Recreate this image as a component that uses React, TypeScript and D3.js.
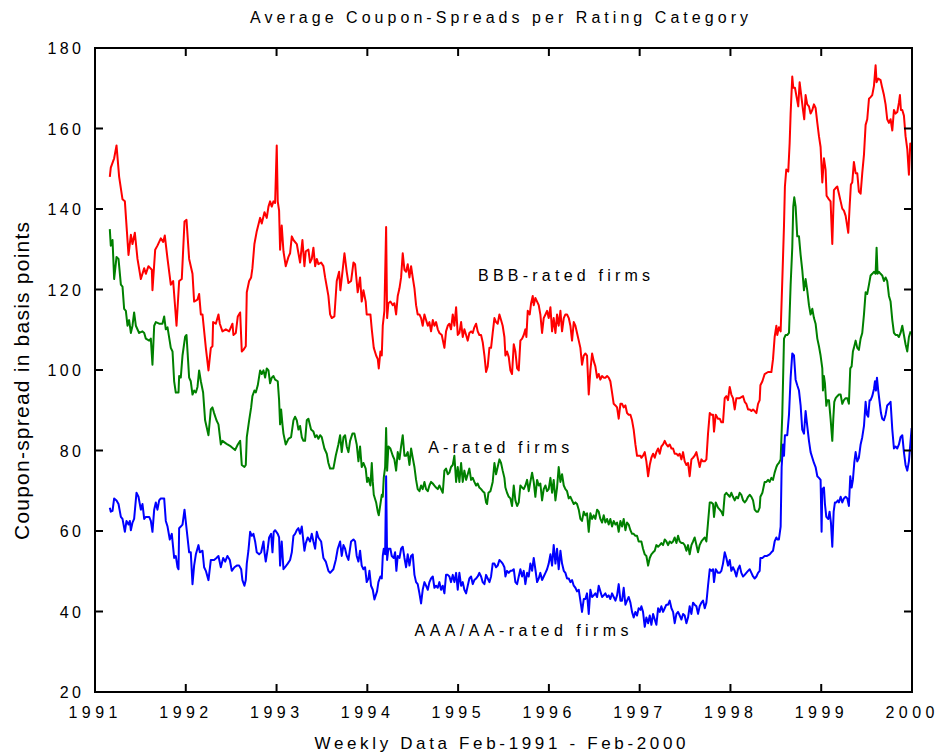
import React from "react";
import * as d3 from "d3";

type Pt = [number, number];

// weekly coupon-spreads (year fraction, basis points)
const bbbRated: Pt[] = [
  [1991.163,148.0],[1991.174,150.3],[1991.211,152.6],[1991.237,155.8],[1991.266,148.0],[1991.303,142.4],[1991.329,141.9],[1991.369,128.6],[1991.395,133.6],[1991.413,131.3],[1991.439,134.1],[1991.468,127.6],[1991.505,122.6],[1991.542,125.3],[1991.560,123.9],[1991.589,125.8],[1991.626,124.9],[1991.633,119.8],[1991.663,129.9],[1991.688,130.9],[1991.725,132.7],[1991.751,131.8],[1991.769,133.4],[1991.799,127.6],[1991.835,121.2],[1991.861,122.1],[1991.898,111.0],[1991.927,122.1],[1991.956,122.6],[1991.986,136.9],[1992.008,137.3],[1992.037,127.6],[1992.074,123.9],[1992.092,117.0],[1992.129,117.5],[1992.147,118.9],[1992.166,113.8],[1992.184,113.8],[1992.221,105.5],[1992.250,99.9],[1992.276,105.5],[1992.294,105.9],[1992.301,111.9],[1992.331,111.5],[1992.360,113.8],[1992.375,111.5],[1992.404,109.6],[1992.441,110.1],[1992.478,109.6],[1992.514,111.5],
  [1992.525,108.7],[1992.551,109.2],[1992.573,113.3],[1992.599,114.3],[1992.617,104.6],[1992.635,105.0],[1992.661,105.9],[1992.672,119.3],[1992.698,122.1],[1992.720,123.0],[1992.734,125.3],[1992.756,131.3],[1992.782,134.5],[1992.819,137.8],[1992.837,136.4],[1992.867,139.2],[1992.892,137.8],[1992.911,140.6],[1992.929,141.9],[1992.947,140.6],[1992.966,141.9],[1992.984,141.5],[1993.002,155.8],[1993.013,141.9],[1993.028,139.6],[1993.039,129.9],[1993.057,135.9],[1993.076,129.5],[1993.101,125.8],[1993.131,128.1],[1993.149,129.0],[1993.168,133.2],[1993.186,132.3],[1993.223,131.3],[1993.241,129.0],[1993.259,126.7],[1993.285,132.3],[1993.307,125.8],[1993.322,129.5],[1993.351,129.9],[1993.369,126.7],[1993.388,127.6],[1993.406,130.4],[1993.425,125.8],[1993.443,127.6],[1993.461,126.3],[1993.491,126.7],[1993.516,125.8],[1993.535,123.0],[1993.571,118.4],[1993.590,113.8],[1993.608,112.9],[1993.637,113.3],[1993.663,122.1],[1993.689,124.4],[1993.703,119.8],[1993.726,124.4],[1993.748,129.0],[1993.773,124.4],[1993.792,121.6],[1993.821,122.1],[1993.847,126.7],[1993.865,126.3],[1993.894,119.3],[1993.920,123.0],[1993.938,117.0],[1993.957,119.8],[1993.982,117.0],[1993.993,113.8],[1994.012,113.8],
  [1994.034,113.8],[1994.049,110.1],[1994.071,105.5],[1994.097,103.6],[1994.115,102.7],[1994.126,100.4],[1994.144,104.6],[1994.159,103.6],[1994.170,111.0],[1994.188,114.7],[1994.207,135.5],[1994.218,112.9],[1994.232,116.6],[1994.254,117.0],[1994.280,116.1],[1994.298,116.6],[1994.317,113.8],[1994.335,118.4],[1994.354,120.3],[1994.372,123.0],[1994.390,129.0],[1994.409,124.9],[1994.427,124.4],[1994.445,126.3],[1994.464,123.0],[1994.482,125.8],[1994.500,123.0],[1994.519,120.3],[1994.537,116.1],[1994.555,113.8],[1994.574,113.8],[1994.592,112.9],[1994.610,111.0],[1994.629,113.8],[1994.647,112.4],[1994.666,111.0],[1994.684,111.9],[1994.702,109.6],[1994.721,112.4],[1994.739,111.0],[1994.757,111.9],[1994.776,110.1],[1994.794,109.2],[1994.820,108.7],[1994.849,105.5],[1994.867,109.6],[1994.886,111.0],[1994.904,111.5],[1994.922,110.1],[1994.941,113.8],[1994.959,111.0],[1994.978,115.6],[1994.996,108.7],[1995.014,109.2],[1995.033,111.9],[1995.051,108.2],[1995.069,110.1],[1995.088,108.7],[1995.106,107.3],[1995.124,109.2],[1995.143,109.6],[1995.161,109.2],[1995.179,110.6],[1995.198,111.5],[1995.216,109.6],[1995.234,108.7],[1995.253,108.7],[1995.271,106.9],[1995.290,103.6],[1995.308,99.5],[1995.326,100.9],[1995.345,105.5],[1995.363,105.5],[1995.381,109.2],[1995.400,112.9],[1995.418,111.9],[1995.436,111.5],[1995.455,113.8],[1995.473,112.4],[1995.491,111.0],[1995.510,108.2],
  [1995.521,103.6],[1995.539,104.6],[1995.558,103.2],[1995.576,99.9],[1995.594,99.0],[1995.613,106.4],[1995.631,104.6],[1995.650,100.4],[1995.668,99.9],[1995.686,107.3],[1995.705,107.8],[1995.723,108.7],[1995.741,110.1],[1995.752,108.2],[1995.767,114.7],[1995.789,113.8],[1995.804,116.6],[1995.822,118.4],[1995.833,116.1],[1995.851,117.9],[1995.870,117.0],[1995.888,116.1],[1995.906,113.8],[1995.925,109.2],[1995.943,112.9],[1995.962,113.8],[1995.980,114.7],[1995.998,112.9],[1996.017,115.6],[1996.035,109.6],[1996.053,112.9],[1996.072,109.2],[1996.090,113.8],[1996.108,111.0],[1996.127,114.7],[1996.145,109.6],[1996.164,112.9],[1996.182,113.8],[1996.200,113.8],[1996.219,112.9],[1996.237,111.0],[1996.255,107.3],[1996.274,111.9],[1996.292,111.0],[1996.310,109.2],[1996.329,107.3],[1996.347,105.5],[1996.365,101.3],[1996.384,103.6],[1996.402,104.1],[1996.420,103.6],[1996.439,93.9],[1996.457,99.9],[1996.476,104.1],[1996.494,102.2],[1996.512,100.9],[1996.531,98.1],[1996.549,99.0],[1996.567,97.6],[1996.586,98.5],[1996.604,98.1],[1996.622,98.1],[1996.641,98.5],[1996.659,98.1],[1996.677,97.2],[1996.696,94.4],[1996.714,91.6],[1996.733,91.2],[1996.751,90.7],[1996.769,87.9],[1996.788,91.6],[1996.806,91.6],[1996.824,90.7],[1996.843,91.2],[1996.861,89.3],[1996.879,88.9],[1996.898,88.9],[1996.916,87.5],[1996.934,85.2],[1996.953,81.5],[1996.971,78.7],[1996.989,78.7],[1997.008,78.7],
  [1997.019,78.2],[1997.037,78.7],[1997.056,79.6],[1997.074,77.3],[1997.093,73.6],[1997.111,76.4],[1997.129,78.2],[1997.148,79.2],[1997.166,78.2],[1997.184,79.6],[1997.203,80.5],[1997.221,79.2],[1997.239,81.0],[1997.258,81.5],[1997.276,82.4],[1997.294,81.5],[1997.313,81.0],[1997.331,81.5],[1997.350,80.5],[1997.368,80.5],[1997.386,79.2],[1997.405,79.2],[1997.423,78.7],[1997.441,79.2],[1997.460,77.8],[1997.478,79.6],[1997.496,77.3],[1997.515,76.4],[1997.533,76.9],[1997.551,73.6],[1997.570,77.8],[1997.588,78.2],[1997.606,78.7],[1997.625,79.6],[1997.643,77.8],[1997.661,75.9],[1997.680,77.8],[1997.698,77.3],[1997.717,77.3],[1997.735,77.8],[1997.753,84.2],[1997.772,89.3],[1997.790,88.9],[1997.808,88.9],[1997.819,84.7],[1997.838,88.9],[1997.863,87.9],[1997.882,87.9],[1997.900,87.0],[1997.918,87.0],[1997.937,93.0],[1997.955,93.5],[1997.973,92.5],[1997.992,95.8],[1998.010,93.9],[1998.028,93.0],[1998.047,90.2],[1998.065,93.0],[1998.102,93.0],[1998.139,93.5],[1998.157,92.1],[1998.175,91.6],[1998.194,90.2],[1998.212,90.2],[1998.231,89.8],[1998.249,90.2],[1998.267,89.8],[1998.286,89.3],[1998.304,91.6],[1998.322,92.5],[1998.330,96.2],[1998.352,97.2],[1998.377,99.0],[1998.414,99.5],[1998.451,99.5],[1998.469,102.7],[1998.487,108.2],[1998.506,111.0],
  [1998.516,108.7],[1998.534,110.6],[1998.553,109.6],[1998.571,122.1],[1998.590,135.9],[1998.600,145.6],[1998.615,149.8],[1998.637,149.3],[1998.652,156.3],[1998.663,163.7],[1998.681,172.9],[1998.692,170.1],[1998.711,170.1],[1998.725,168.3],[1998.747,165.5],[1998.762,171.5],[1998.784,167.4],[1998.799,164.6],[1998.813,162.3],[1998.828,168.3],[1998.846,166.0],[1998.865,165.5],[1998.883,163.7],[1998.902,164.6],[1998.920,166.0],[1998.938,165.1],[1998.957,161.4],[1998.975,158.1],[1998.993,155.4],[1999.012,146.6],[1999.030,152.6],[1999.048,149.8],[1999.059,143.3],[1999.085,142.4],[1999.103,141.9],[1999.122,131.3],[1999.140,144.7],[1999.159,145.2],[1999.177,145.6],[1999.195,143.8],[1999.214,141.9],[1999.232,140.1],[1999.250,139.6],[1999.269,138.3],[1999.298,134.1],[1999.313,140.6],[1999.327,146.1],[1999.342,146.6],[1999.360,151.7],[1999.379,148.9],[1999.397,148.9],[1999.415,144.3],[1999.434,143.8],[1999.452,148.9],[1999.471,153.5],[1999.489,160.9],[1999.507,162.3],[1999.526,167.4],[1999.544,167.8],[1999.562,168.3],[1999.581,170.6],[1999.599,175.7],[1999.610,171.5],[1999.628,172.4],[1999.654,172.0],[1999.672,170.1],[1999.691,168.3],[1999.709,166.0],[1999.727,162.3],[1999.746,161.4],[1999.764,162.3],[1999.783,159.5],[1999.801,164.6],[1999.819,163.7],[1999.838,164.1],[1999.856,166.4],[1999.867,168.3],[1999.878,164.6],[1999.893,164.6],[1999.911,163.2],[1999.929,158.1],[1999.948,154.9],[1999.966,148.5],[1999.981,156.3],[1999.996,154.4],
];

const aRated: Pt[] = [
  [1991.163,135.0],[1991.174,130.9],[1991.193,132.3],[1991.211,122.6],[1991.237,128.1],[1991.259,127.6],[1991.285,121.2],[1991.303,120.7],[1991.321,115.2],[1991.340,114.7],[1991.358,111.0],[1991.376,112.4],[1991.395,109.2],[1991.413,111.0],[1991.431,114.3],[1991.450,111.0],[1991.486,109.2],[1991.523,109.6],[1991.542,109.2],[1991.560,107.8],[1991.597,107.3],[1991.615,107.8],[1991.633,101.3],[1991.652,111.0],[1991.670,111.9],[1991.707,111.5],[1991.743,111.5],[1991.762,113.3],[1991.780,110.1],[1991.799,110.6],[1991.835,105.5],[1991.854,104.6],[1991.872,97.2],[1991.890,94.4],[1991.920,94.4],[1991.927,98.5],[1991.945,98.1],[1991.964,103.6],[1991.993,108.3],[1992.008,108.7],[1992.037,98.1],[1992.055,97.2],[1992.074,93.9],[1992.092,94.9],[1992.111,94.4],[1992.129,95.8],[1992.147,99.9],[1992.166,97.2],[1992.191,94.4],[1992.213,87.5],[1992.250,83.8],[1992.276,90.2],[1992.294,90.7],[1992.312,89.3],[1992.338,87.5],[1992.360,86.5],[1992.386,81.5],[1992.404,82.4],[1992.434,81.9],[1992.459,81.5],[1992.496,81.0],
  [1992.543,80.1],[1992.573,81.5],[1992.599,82.4],[1992.617,76.4],[1992.646,75.9],[1992.661,76.4],[1992.672,83.3],[1992.698,87.5],[1992.720,90.7],[1992.734,93.5],[1992.756,94.9],[1992.771,94.4],[1992.793,96.2],[1992.819,99.9],[1992.837,99.0],[1992.856,99.9],[1992.874,98.1],[1992.892,100.4],[1992.911,99.9],[1992.929,96.7],[1992.947,98.1],[1992.966,98.5],[1992.984,97.6],[1993.013,97.2],[1993.028,92.5],[1993.039,86.5],[1993.050,90.2],[1993.065,86.5],[1993.076,84.2],[1993.101,81.5],[1993.131,82.9],[1993.160,83.3],[1993.186,87.5],[1993.204,88.4],[1993.223,87.5],[1993.241,85.2],[1993.259,86.1],[1993.278,83.3],[1993.296,82.4],[1993.314,82.4],[1993.333,87.5],[1993.351,87.9],[1993.380,85.2],[1993.406,84.7],[1993.425,83.3],[1993.443,83.8],[1993.461,82.9],[1993.480,83.8],[1993.498,83.3],[1993.527,80.5],[1993.553,79.2],[1993.571,76.9],[1993.590,75.5],[1993.626,75.5],[1993.652,78.7],[1993.681,81.5],[1993.700,83.8],[1993.718,79.6],[1993.737,83.3],[1993.755,83.8],[1993.773,81.0],[1993.792,79.6],[1993.810,82.4],[1993.836,84.2],[1993.858,84.2],[1993.883,81.5],[1993.902,77.3],[1993.920,81.0],[1993.938,75.9],[1993.957,76.9],[1993.982,75.5],[1993.997,72.2],[1994.012,73.2],
  [1994.023,72.2],[1994.034,71.3],[1994.049,76.9],[1994.060,72.2],[1994.071,69.0],[1994.097,67.1],[1994.115,64.8],[1994.126,63.9],[1994.144,66.7],[1994.159,69.0],[1994.170,68.5],[1994.181,73.2],[1994.196,75.9],[1994.207,85.6],[1994.218,75.0],[1994.232,81.0],[1994.254,80.5],[1994.280,78.7],[1994.298,77.8],[1994.317,75.0],[1994.335,79.6],[1994.354,77.8],[1994.372,81.0],[1994.390,83.8],[1994.409,78.7],[1994.427,78.7],[1994.445,79.6],[1994.464,76.4],[1994.482,80.5],[1994.500,78.2],[1994.519,75.9],[1994.537,72.7],[1994.555,70.4],[1994.574,69.9],[1994.592,71.3],[1994.610,70.4],[1994.629,72.2],[1994.647,70.4],[1994.666,69.9],[1994.684,71.3],[1994.702,72.2],[1994.721,71.8],[1994.739,71.3],[1994.757,70.8],[1994.776,70.4],[1994.794,71.3],[1994.812,70.4],[1994.831,69.5],[1994.849,75.0],[1994.867,75.5],[1994.886,74.1],[1994.904,74.5],[1994.922,75.9],[1994.941,76.4],[1994.959,78.7],[1994.978,72.2],[1994.996,75.9],[1995.014,72.2],[1995.033,76.9],[1995.051,72.2],[1995.069,75.0],[1995.088,72.7],[1995.106,74.1],[1995.124,75.5],[1995.143,72.7],[1995.161,73.2],[1995.179,72.2],[1995.198,71.3],[1995.216,71.8],[1995.234,70.8],[1995.253,70.4],[1995.271,69.9],[1995.290,69.5],[1995.308,67.1],[1995.319,66.7],[1995.334,69.5],[1995.356,69.9],[1995.381,72.2],[1995.400,76.9],[1995.418,74.1],[1995.436,75.9],[1995.455,77.8],[1995.473,76.9],[1995.491,75.0],[1995.510,73.2],
  [1995.521,70.8],[1995.539,69.5],[1995.558,68.5],[1995.576,68.1],[1995.594,66.2],[1995.613,71.3],[1995.631,67.6],[1995.650,66.2],[1995.668,67.1],[1995.686,71.3],[1995.705,70.8],[1995.723,70.4],[1995.741,71.3],[1995.760,72.7],[1995.778,69.9],[1995.796,72.2],[1995.815,74.5],[1995.833,72.2],[1995.851,68.5],[1995.870,72.7],[1995.888,71.3],[1995.906,71.8],[1995.925,67.6],[1995.943,70.4],[1995.962,71.3],[1995.980,69.9],[1995.998,70.4],[1996.017,73.2],[1996.035,69.5],[1996.053,72.7],[1996.072,67.6],[1996.090,70.8],[1996.108,75.9],[1996.127,72.2],[1996.145,74.1],[1996.164,71.3],[1996.182,70.4],[1996.200,69.9],[1996.219,68.1],[1996.237,68.5],[1996.255,67.6],[1996.274,66.7],[1996.292,67.1],[1996.310,66.7],[1996.329,65.3],[1996.347,63.0],[1996.365,62.5],[1996.384,64.8],[1996.402,63.9],[1996.420,64.4],[1996.439,59.8],[1996.457,64.4],[1996.476,63.0],[1996.494,63.9],[1996.512,63.0],[1996.531,65.3],[1996.549,64.8],[1996.567,63.0],[1996.586,62.1],[1996.604,63.9],[1996.622,62.1],[1996.641,63.0],[1996.659,61.6],[1996.677,63.0],[1996.696,61.1],[1996.714,62.5],[1996.733,61.6],[1996.751,62.1],[1996.769,59.8],[1996.788,62.5],[1996.806,61.1],[1996.824,63.0],[1996.843,60.2],[1996.861,62.1],[1996.879,61.6],[1996.898,60.2],[1996.916,59.3],[1996.934,59.3],[1996.953,58.8],[1996.971,58.8],[1996.989,57.4],[1997.008,57.4],
  [1997.019,57.4],[1997.037,55.6],[1997.056,54.2],[1997.074,53.8],[1997.093,51.4],[1997.111,53.3],[1997.129,54.2],[1997.148,54.7],[1997.166,55.1],[1997.184,56.5],[1997.203,56.1],[1997.221,56.5],[1997.239,57.0],[1997.258,56.5],[1997.276,57.9],[1997.294,57.4],[1997.313,56.5],[1997.331,57.4],[1997.350,57.0],[1997.368,57.4],[1997.386,58.4],[1997.405,57.0],[1997.423,58.8],[1997.441,57.4],[1997.460,57.0],[1997.478,57.0],[1997.496,56.5],[1997.515,55.1],[1997.533,56.5],[1997.551,54.2],[1997.570,56.5],[1997.588,57.4],[1997.606,58.4],[1997.625,56.5],[1997.643,54.7],[1997.661,56.5],[1997.680,57.4],[1997.698,57.9],[1997.717,58.4],[1997.735,57.4],[1997.753,62.1],[1997.772,67.1],[1997.790,67.1],[1997.808,66.7],[1997.819,63.5],[1997.838,67.1],[1997.863,65.8],[1997.882,65.3],[1997.900,64.8],[1997.918,63.9],[1997.937,69.0],[1997.955,69.5],[1997.973,69.0],[1997.992,68.5],[1998.010,69.5],[1998.028,68.5],[1998.047,67.6],[1998.065,68.5],[1998.083,68.1],[1998.102,69.5],[1998.120,69.0],[1998.139,67.6],[1998.157,67.1],[1998.175,67.6],[1998.194,68.5],[1998.212,69.0],[1998.231,68.5],[1998.249,67.6],[1998.267,65.3],[1998.286,64.8],[1998.304,64.8],[1998.322,65.8],[1998.330,68.5],[1998.352,69.5],[1998.377,72.2],[1998.396,72.2],[1998.414,72.7],[1998.432,72.2],[1998.451,73.2],[1998.469,72.7],[1998.487,74.5],[1998.506,75.9],
  [1998.516,76.4],[1998.534,76.9],[1998.553,77.8],[1998.571,88.9],[1998.590,107.8],[1998.608,108.7],[1998.626,108.7],[1998.645,109.2],[1998.663,121.2],[1998.681,130.4],[1998.692,140.6],[1998.703,142.9],[1998.718,140.6],[1998.736,133.2],[1998.755,133.2],[1998.773,128.6],[1998.791,124.9],[1998.810,119.8],[1998.828,122.6],[1998.846,119.8],[1998.865,116.1],[1998.883,113.8],[1998.902,115.2],[1998.920,112.9],[1998.938,111.5],[1998.957,107.8],[1998.975,105.9],[1998.993,103.6],[1999.012,100.4],[1999.019,94.9],[1999.030,98.5],[1999.041,96.7],[1999.056,91.1],[1999.067,92.5],[1999.085,92.5],[1999.103,87.9],[1999.122,82.4],[1999.133,87.9],[1999.144,92.1],[1999.159,93.0],[1999.177,93.5],[1999.195,93.9],[1999.214,93.9],[1999.232,91.6],[1999.250,92.5],[1999.269,93.0],[1999.287,93.0],[1999.305,91.6],[1999.320,100.4],[1999.335,100.9],[1999.349,104.6],[1999.360,105.5],[1999.379,107.3],[1999.397,105.5],[1999.415,105.0],[1999.434,107.8],[1999.452,109.2],[1999.471,113.8],[1999.489,119.3],[1999.507,118.9],[1999.526,121.2],[1999.544,123.5],[1999.562,123.9],[1999.581,124.4],[1999.599,123.9],[1999.610,130.4],[1999.621,123.9],[1999.636,124.4],[1999.654,123.9],[1999.672,123.5],[1999.691,122.1],[1999.709,123.0],[1999.727,122.1],[1999.746,118.4],[1999.764,117.0],[1999.783,112.4],[1999.801,109.2],[1999.819,108.7],[1999.838,108.7],[1999.856,108.2],[1999.874,109.2],[1999.893,111.0],[1999.911,108.7],[1999.929,106.4],[1999.948,104.6],[1999.966,108.2],[1999.985,109.6],
];

const aaaRated: Pt[] = [
  [1991.163,65.8],[1991.174,64.8],[1991.193,65.0],[1991.211,68.1],[1991.237,67.6],[1991.259,66.7],[1991.285,63.5],[1991.303,63.0],[1991.329,59.8],[1991.347,62.5],[1991.369,61.6],[1991.384,62.5],[1991.395,60.2],[1991.413,62.1],[1991.431,63.0],[1991.457,69.5],[1991.479,68.5],[1991.505,65.3],[1991.523,66.7],[1991.542,63.0],[1991.560,63.5],[1991.597,63.5],[1991.615,62.5],[1991.633,59.8],[1991.652,65.3],[1991.670,67.1],[1991.688,65.3],[1991.707,67.6],[1991.725,68.1],[1991.762,68.1],[1991.780,62.5],[1991.799,61.1],[1991.824,57.9],[1991.846,59.3],[1991.872,53.3],[1991.890,53.8],[1991.909,51.0],[1991.920,50.5],[1991.927,60.7],[1991.945,61.1],[1991.964,61.6],[1991.986,65.3],[1992.008,60.7],[1992.037,54.7],[1992.055,54.7],[1992.074,46.8],[1992.092,51.4],[1992.111,54.2],[1992.140,56.5],[1992.155,54.7],[1992.184,55.1],[1992.202,51.0],[1992.221,50.1],[1992.250,47.8],[1992.276,52.8],[1992.312,52.8],[1992.338,53.3],[1992.360,53.8],[1992.386,51.0],[1992.412,53.3],[1992.434,52.4],[1992.459,53.8],[1992.485,52.8],[1992.507,50.1],
  [1992.536,51.0],[1992.562,51.4],[1992.588,51.4],[1992.610,50.5],[1992.624,47.8],[1992.646,46.4],[1992.661,47.8],[1992.672,51.9],[1992.690,55.1],[1992.709,59.8],[1992.727,58.8],[1992.745,59.3],[1992.764,57.4],[1992.782,54.7],[1992.808,54.2],[1992.830,54.7],[1992.856,57.4],[1992.867,54.7],[1992.881,52.4],[1992.903,55.6],[1992.918,58.4],[1992.940,59.3],[1992.955,54.7],[1992.969,59.8],[1992.984,60.2],[1993.013,59.3],[1993.028,58.4],[1993.039,51.4],[1993.057,57.4],[1993.076,50.5],[1993.094,51.0],[1993.123,51.9],[1993.149,52.8],[1993.168,54.7],[1993.186,58.8],[1993.204,59.3],[1993.223,60.2],[1993.241,60.7],[1993.259,59.3],[1993.278,61.1],[1993.307,55.1],[1993.322,57.0],[1993.344,58.4],[1993.369,57.4],[1993.388,59.3],[1993.406,57.4],[1993.425,55.6],[1993.443,59.8],[1993.461,58.4],[1993.491,57.4],[1993.516,53.3],[1993.542,52.4],[1993.571,50.1],[1993.590,49.6],[1993.626,50.5],[1993.652,52.8],[1993.674,55.6],[1993.700,57.4],[1993.718,53.8],[1993.737,56.5],[1993.755,55.6],[1993.773,53.8],[1993.792,52.8],[1993.821,57.4],[1993.847,57.9],[1993.865,57.4],[1993.883,53.8],[1993.902,52.4],[1993.920,55.1],[1993.938,51.4],[1993.957,50.5],[1993.975,51.0],[1993.993,47.3],[1994.012,48.2],
  [1994.023,50.1],[1994.041,46.4],[1994.060,45.4],[1994.078,43.0],[1994.107,45.0],[1994.122,47.3],[1994.144,48.7],[1994.159,48.2],[1994.170,53.8],[1994.181,55.6],[1994.196,54.2],[1994.207,73.6],[1994.218,52.8],[1994.232,55.6],[1994.254,55.6],[1994.269,53.8],[1994.291,53.3],[1994.306,54.7],[1994.320,50.1],[1994.335,53.8],[1994.354,53.3],[1994.372,55.6],[1994.390,56.1],[1994.409,53.3],[1994.427,51.0],[1994.445,54.2],[1994.464,51.4],[1994.482,53.8],[1994.500,54.2],[1994.519,49.1],[1994.537,47.3],[1994.555,46.8],[1994.574,44.5],[1994.592,42.0],[1994.610,45.4],[1994.629,47.3],[1994.647,46.4],[1994.666,45.4],[1994.684,47.3],[1994.702,48.2],[1994.721,48.7],[1994.739,45.9],[1994.757,46.4],[1994.776,45.9],[1994.794,47.3],[1994.812,45.4],[1994.831,46.4],[1994.849,44.5],[1994.867,49.1],[1994.886,49.1],[1994.904,48.7],[1994.922,47.3],[1994.941,49.1],[1994.959,47.3],[1994.978,49.6],[1994.996,45.4],[1995.014,49.6],[1995.033,46.4],[1995.051,47.3],[1995.069,45.4],[1995.088,44.5],[1995.106,46.4],[1995.124,48.2],[1995.143,48.7],[1995.161,46.8],[1995.179,47.8],[1995.198,48.2],[1995.216,48.7],[1995.234,49.6],[1995.253,48.7],[1995.271,47.3],[1995.290,46.8],[1995.308,49.1],[1995.326,48.2],[1995.345,47.3],[1995.363,48.7],[1995.381,51.9],[1995.400,51.9],[1995.418,51.0],[1995.436,51.4],[1995.455,52.8],[1995.473,52.4],[1995.491,51.9],[1995.510,51.0],
  [1995.521,48.7],[1995.539,50.1],[1995.558,49.6],[1995.576,50.1],[1995.594,50.1],[1995.613,50.5],[1995.631,47.3],[1995.650,46.8],[1995.668,48.7],[1995.686,50.5],[1995.705,48.7],[1995.723,50.1],[1995.741,46.8],[1995.760,49.6],[1995.778,48.7],[1995.796,51.9],[1995.815,50.1],[1995.833,53.3],[1995.851,50.5],[1995.870,47.3],[1995.888,48.2],[1995.906,49.6],[1995.925,47.8],[1995.943,48.7],[1995.962,49.6],[1995.980,50.5],[1995.998,51.9],[1996.017,54.2],[1996.035,51.4],[1996.053,56.5],[1996.072,51.9],[1996.090,55.6],[1996.108,50.5],[1996.127,55.1],[1996.145,51.9],[1996.164,50.1],[1996.182,49.6],[1996.200,48.2],[1996.219,48.2],[1996.237,47.3],[1996.255,47.8],[1996.274,46.4],[1996.292,45.9],[1996.310,45.0],[1996.329,45.4],[1996.347,42.7],[1996.365,39.9],[1996.384,43.1],[1996.402,43.1],[1996.420,44.5],[1996.439,39.4],[1996.457,45.4],[1996.476,43.6],[1996.494,44.0],[1996.512,44.5],[1996.531,43.6],[1996.549,46.4],[1996.567,45.0],[1996.586,43.6],[1996.604,44.0],[1996.622,44.5],[1996.641,43.6],[1996.659,44.0],[1996.677,43.1],[1996.696,44.5],[1996.714,43.6],[1996.733,42.7],[1996.751,44.0],[1996.769,46.8],[1996.788,42.7],[1996.806,42.7],[1996.824,45.9],[1996.843,41.7],[1996.861,42.7],[1996.879,43.6],[1996.898,42.2],[1996.916,39.9],[1996.934,38.5],[1996.953,39.9],[1996.971,39.0],[1996.989,40.8],[1997.008,40.4],
  [1997.019,41.3],[1997.037,39.9],[1997.056,36.2],[1997.074,38.5],[1997.093,37.1],[1997.111,39.0],[1997.129,36.7],[1997.148,39.4],[1997.166,38.0],[1997.184,36.7],[1997.203,40.8],[1997.221,39.9],[1997.239,41.3],[1997.258,39.9],[1997.276,40.8],[1997.294,41.7],[1997.313,41.7],[1997.331,42.7],[1997.350,40.8],[1997.368,39.9],[1997.386,37.1],[1997.405,39.4],[1997.423,39.9],[1997.441,39.0],[1997.460,38.0],[1997.478,39.4],[1997.496,39.0],[1997.515,37.1],[1997.533,38.5],[1997.551,41.3],[1997.570,39.4],[1997.588,42.2],[1997.606,41.7],[1997.625,41.3],[1997.643,39.4],[1997.661,41.3],[1997.680,42.2],[1997.698,42.7],[1997.717,40.8],[1997.735,42.2],[1997.753,46.4],[1997.772,50.5],[1997.790,50.1],[1997.808,50.5],[1997.819,47.3],[1997.838,50.5],[1997.863,49.6],[1997.882,49.6],[1997.900,50.1],[1997.918,51.9],[1997.937,54.7],[1997.955,53.3],[1997.973,51.4],[1997.992,52.8],[1998.010,50.1],[1998.028,51.0],[1998.047,50.1],[1998.065,48.7],[1998.083,50.5],[1998.102,51.4],[1998.120,49.6],[1998.139,48.7],[1998.157,49.1],[1998.175,49.6],[1998.194,50.1],[1998.212,50.5],[1998.231,49.6],[1998.249,48.7],[1998.267,48.2],[1998.286,48.7],[1998.304,49.6],[1998.322,50.1],[1998.330,53.3],[1998.352,53.3],[1998.377,53.8],[1998.403,53.8],[1998.432,54.2],[1998.451,54.7],[1998.469,55.1],[1998.487,57.4],[1998.506,58.4],
  [1998.516,57.9],[1998.534,57.9],[1998.553,61.1],[1998.564,75.9],[1998.579,81.5],[1998.590,78.7],[1998.600,83.8],[1998.626,83.8],[1998.645,88.9],[1998.663,98.1],[1998.681,104.1],[1998.700,103.6],[1998.718,97.6],[1998.736,96.2],[1998.755,94.9],[1998.773,91.2],[1998.791,85.2],[1998.810,84.2],[1998.828,89.8],[1998.846,86.1],[1998.865,82.4],[1998.883,79.6],[1998.902,78.2],[1998.920,76.9],[1998.938,75.9],[1998.957,73.6],[1998.975,73.2],[1998.993,72.7],[1999.004,59.8],[1999.012,70.4],[1999.030,70.8],[1999.041,66.7],[1999.056,63.5],[1999.078,63.0],[1999.092,64.8],[1999.107,62.1],[1999.122,56.1],[1999.137,64.8],[1999.151,67.1],[1999.166,67.1],[1999.184,67.6],[1999.195,67.1],[1999.214,68.5],[1999.232,67.1],[1999.250,68.1],[1999.269,68.5],[1999.287,68.1],[1999.305,66.2],[1999.320,73.6],[1999.335,70.8],[1999.349,72.7],[1999.364,76.9],[1999.379,79.6],[1999.397,77.3],[1999.415,78.2],[1999.434,81.5],[1999.452,83.3],[1999.471,86.1],[1999.489,92.1],[1999.504,88.9],[1999.518,88.4],[1999.533,92.5],[1999.544,92.5],[1999.562,93.5],[1999.581,95.3],[1999.592,97.2],[1999.603,94.9],[1999.614,98.1],[1999.628,94.9],[1999.643,92.1],[1999.658,89.3],[1999.672,87.9],[1999.691,87.5],[1999.709,88.9],[1999.727,91.2],[1999.746,91.6],[1999.764,92.1],[1999.783,85.2],[1999.801,80.5],[1999.819,81.0],[1999.838,80.5],[1999.856,81.5],[1999.874,83.3],[1999.893,83.8],[1999.911,79.6],[1999.929,76.4],[1999.948,75.0],[1999.966,77.3],[1999.981,81.5],[1999.996,85.6],
];

const yearTicks = [1991, 1992, 1993, 1994, 1995, 1996, 1997, 1998, 1999, 2000];
const spreadTicks = [20, 40, 60, 80, 100, 120, 140, 160, 180];

const seriesList = [
  { name: "BBB-rated firms", color: "#ff0000", data: bbbRated, labelAt: [1995.22, 122.2], labelLen: 172 },
  { name: "A-rated firms", color: "#008000", data: aRated, labelAt: [1994.67, 79.4], labelLen: 141 },
  { name: "AAA/AA-rated firms", color: "#0000ff", data: aaaRated, labelAt: [1994.52, 33.8], labelLen: 214 },
];

const font = "'Liberation Sans', Arial, Helvetica, sans-serif";

export default function App() {
  const width = 939;
  const height = 756;
  const left = 95, right = 912, top = 48, bottom = 692;

  const x = d3.scaleLinear().domain([1991, 2000]).range([left, right]);
  const y = d3.scaleLinear().domain([20, 180]).range([bottom, top]);

  const line = d3
    .line<Pt>()
    .x((d) => x(d[0]))
    .y((d) => y(d[1]));

  const tickLen = 8;

  return (
    <svg
      width={width}
      height={height}
      style={{ position: "absolute", left: 0, top: 0, background: "#fff", fontFamily: font }}
    >
      <rect x={0} y={0} width={width} height={height} fill="#fff" />

      {/* series */}
      {seriesList.map((s) => (
        <path
          key={s.name}
          d={line(s.data) || ""}
          fill="none"
          stroke={s.color}
          strokeWidth={2}
          strokeLinejoin="round"
        />
      ))}

      {/* frame */}
      <rect
        x={left}
        y={top}
        width={right - left}
        height={bottom - top}
        fill="none"
        stroke="#000"
        strokeWidth={2}
      />

      {/* x ticks, bottom and top, pointing inwards */}
      {yearTicks.map((t) => (
        <g key={"xt" + t}>
          <line x1={x(t)} x2={x(t)} y1={bottom} y2={bottom - tickLen} stroke="#000" strokeWidth={2} />
          <line x1={x(t)} x2={x(t)} y1={top} y2={top + tickLen} stroke="#000" strokeWidth={2} />
          <text
            x={x(t) - 2}
            y={718}
            fontSize={16}
            textAnchor="middle"
            textLength={49}
            lengthAdjust="spacing"
            fill="#000"
          >
            {t}
          </text>
        </g>
      ))}

      {/* y ticks, left and right */}
      {spreadTicks.map((v) => {
        const label = String(v);
        return (
          <g key={"yt" + v}>
            <line x1={left} x2={left + tickLen} y1={y(v)} y2={y(v)} stroke="#000" strokeWidth={2} />
            <line x1={right} x2={right - tickLen} y1={y(v)} y2={y(v)} stroke="#000" strokeWidth={2} />
            <text
              x={81}
              y={y(v) + 6}
              fontSize={16}
              textAnchor="end"
              textLength={label.length * 8.9 + (label.length - 1) * 3.4}
              lengthAdjust="spacing"
              fill="#000"
            >
              {label}
            </text>
          </g>
        );
      })}

      {/* series labels */}
      {seriesList.map((s) => (
        <text
          key={"lab" + s.name}
          x={x(s.labelAt[0])}
          y={y(s.labelAt[1])}
          fontSize={16}
          textLength={s.labelLen}
          lengthAdjust="spacing"
          fill="#000"
        >
          {s.name}
        </text>
      ))}

      {/* titles */}
      <text x={499} y={23} fontSize={16} textAnchor="middle" textLength={498} lengthAdjust="spacing" fill="#000">
        Average Coupon-Spreads per Rating Category
      </text>
      <text x={500} y={749} fontSize={17} textAnchor="middle" textLength={371} lengthAdjust="spacing" fill="#000">
        Weekly Data Feb-1991 - Feb-2000
      </text>
      <text
        transform={`translate(29, 381) rotate(-90)`}
        fontSize={21}
        textAnchor="middle"
        textLength={318}
        lengthAdjust="spacing"
        fill="#000"
      >
        Coupon-spread in basis points
      </text>
    </svg>
  );
}
